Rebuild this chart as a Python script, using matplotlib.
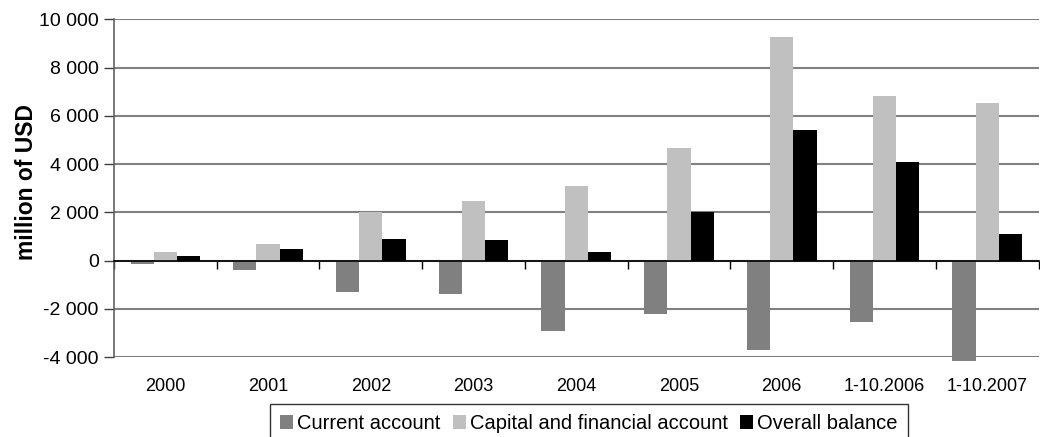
import matplotlib
matplotlib.use("Agg")
import matplotlib.pyplot as plt
import numpy as np
from matplotlib.ticker import FuncFormatter, MultipleLocator

plt.rcParams["font.family"] = ["Liberation Sans", "DejaVu Sans"]

periods = ["2000", "2001", "2002", "2003", "2004", "2005", "2006",
           "1-10.2006", "1-10.2007"]
current_account = [-160, -370, -1290, -1400, -2900, -2220, -3690, -2550, -4170]
capital_financial = [340, 700, 2000, 2490, 3100, 4690, 9290, 6840, 6550]
overall_balance = [210, 460, 910, 870, 370, 2000, 5430, 4070, 1120]

series = [
    ("Current account", current_account, "#808080"),
    ("Capital and financial account", capital_financial, "#c0c0c0"),
    ("Overall balance", overall_balance, "#000000"),
]

fig = plt.figure(figsize=(10.4, 4.37), dpi=100)
ax = fig.add_axes([0.1096, 0.183, 0.889, 0.7724])

x = np.arange(len(periods))
w = 0.226
for i, (name, vals, col) in enumerate(series):
    # the last current-account bar runs a little past -4000, so don't clip it
    ax.bar(x + (i - 1) * w, vals, width=w, color=col, label=name, zorder=3,
           clip_on=False)

ax.set_xlim(-0.5, len(periods) - 0.5)
ax.set_ylim(-4000, 10000)
ax.yaxis.set_major_locator(MultipleLocator(2000))
ax.yaxis.set_major_formatter(FuncFormatter(lambda v, _: f"{int(v):,}".replace(",", " ")))
ax.grid(axis="y", color="#808080", linewidth=1.5, zorder=0)

# category labels at the bottom, separators hanging from the zero line
ax.set_xticks(x)
ax.set_xticklabels(periods)
ax.set_xticks(np.arange(len(periods) + 1) - 0.5, minor=True)
ax.tick_params(axis="x", which="major", length=0, labelsize=13, pad=15)
ax.tick_params(axis="x", which="minor", top=True, bottom=False, direction="in",
               length=6, width=1, color="#000000")
ax.tick_params(axis="y", which="major", direction="out", length=7, width=1,
               color="#404040", labelsize=14, pad=4)

ax.spines["top"].set_position(("data", 0))
ax.spines["top"].set_color("#000000")
ax.spines["top"].set_linewidth(1.2)
ax.spines["top"].set_zorder(4)
ax.spines["bottom"].set_visible(False)
ax.spines["right"].set_visible(False)
ax.spines["left"].set_color("#606060")
ax.spines["left"].set_linewidth(1.2)

ax.set_ylabel("million of USD", fontsize=16.5, fontweight="bold")
ax.yaxis.set_label_coords(-0.082, 0.52)

leg = fig.legend(loc="upper center", bbox_to_anchor=(589 / 1040, 1 - 404 / 437),
                 ncol=3, fontsize=14.5, frameon=True, fancybox=False,
                 handlelength=0.65, handleheight=0.65, handletextpad=0.2,
                 columnspacing=0.6, borderpad=0.5, borderaxespad=0)
leg.get_frame().set_edgecolor("#000000")
leg.get_frame().set_linewidth(1)

fig.savefig("out.png", dpi=100)
